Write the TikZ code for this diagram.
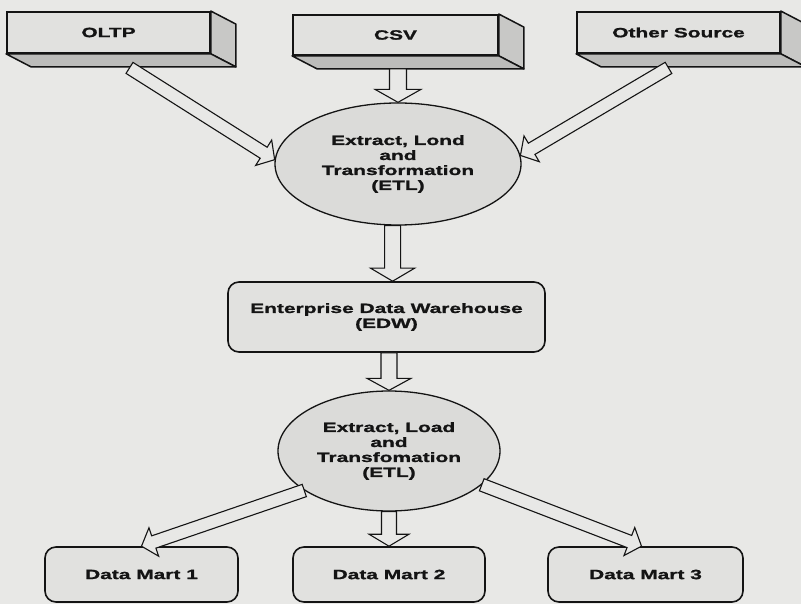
\documentclass[tikz,border=0pt]{standalone}
\usepackage{fontspec}
\newfontfamily\lblfont[FakeStretch=1.55, BoldFeatures={FakeBold=1.2}]{Liberation Sans}
\usetikzlibrary{calc,shapes.geometric}

\definecolor{paper}{HTML}{E8E8E6}
\definecolor{face}{HTML}{E1E1DF}
\definecolor{sideface}{HTML}{C8C8C6}
\definecolor{botface}{HTML}{BCBCBA}
\definecolor{bubble}{HTML}{DBDBD9}
\definecolor{ink}{HTML}{141414}

\tikzset{
  lbl/.style={font=\lblfont\bfseries\fontsize{13.5}{15}\selectfont, text=ink, align=center},
  srcbox/.style={lbl, rectangle, draw=ink, line width=1.8pt, fill=face, inner sep=0pt},
  extr/.style={draw=ink, line width=1.5pt, line join=round},
  etlnode/.style={lbl, ellipse, draw=ink, line width=1.3pt, fill=bubble, inner sep=0pt},
  storebox/.style={lbl, rectangle, draw=ink, line width=1.6pt, fill=face, rounded corners=11pt, inner sep=0pt},
  flow/.style={draw=ink, line width=1.1pt, fill=paper, line join=miter},
}

% hollow block arrow: start, tip, shaft half width, head half width, head length
\newcommand\hollowarrow[5]{%
  \path ($(#2)!#5!(#1)$) coordinate (hb);
  \draw[flow] ($(#1)!#3!90:(#2)$) -- ($(hb)!#3!90:(#2)$) -- ($(hb)!#4!90:(#2)$)
    -- (#2) -- ($(hb)!#4!-90:(#2)$) -- ($(hb)!#3!-90:(#2)$) -- ($(#1)!#3!-90:(#2)$) -- cycle;
}

% right and bottom faces of a source block
\newcommand\extrude[1]{%
  \draw[extr, fill=sideface] (#1.north east) -- ++(25,13) -- ($(#1.south east)+(25,13)$)
    -- (#1.south east) -- cycle;
  \draw[extr, fill=botface] (#1.south west) -- ($(#1.south west)+(25,13)$)
    -- ($(#1.south east)+(25,13)$) -- (#1.south east) -- cycle;
}

\begin{document}
\begin{tikzpicture}[x=1pt, y=-1pt]
  \useasboundingbox (0,0) rectangle (801,604);
  \clip (0,0) rectangle (801,604);
  \fill[paper] (0,0) rectangle (801,604);

  % data sources
  \node[srcbox, minimum width=203pt, minimum height=41pt] (oltp) at (108.5,32.5) {OLTP};
  \node[srcbox, minimum width=205pt, minimum height=40pt] (csv) at (395.5,35) {CSV};
  \node[srcbox, minimum width=203pt, minimum height=41pt] (other) at (678.5,32.5) {Other Source};
  \extrude{oltp}
  \extrude{csv}
  \extrude{other}

  % processing and storage
  \node[etlnode, minimum width=246pt, minimum height=122pt] (etl1) at (398,164)
    {Extract, Lond\\and\\Transformation\\(ETL)};
  \node[storebox, minimum width=317pt, minimum height=70pt] (edw) at (386.5,317)
    {Enterprise Data Warehouse\\(EDW)};
  \node[etlnode, minimum width=222pt, minimum height=120pt] (etl2) at (389,451)
    {Extract, Load\\and\\Transfomation\\(ETL)};

  % data marts
  \node[storebox, minimum width=193pt, minimum height=55pt] (dm1) at (141.5,574.5) {Data Mart 1};
  \node[storebox, minimum width=192pt, minimum height=55pt] (dm2) at (389,574.5) {Data Mart 2};
  \node[storebox, minimum width=195pt, minimum height=55pt] (dm3) at (645.5,574.5) {Data Mart 3};

  % connector end points
  \coordinate (a1s) at ($(oltp.south)+(21,14)$);
  \coordinate (a1e) at (etl1.178);
  \coordinate (a2t) at (csv.south -| etl1.north);
  \coordinate (a2s) at ($(a2t)+(0,13)$);
  \coordinate (a2e) at (etl1.north);
  \coordinate (a3s) at ($(other.south)+(-10,14)$);
  \coordinate (a3e) at (etl1.4);
  \coordinate (a4s) at (etl1.265);
  \coordinate (a4e) at (a4s |- edw.north);
  \coordinate (a5s) at (edw.south -| etl2.north);
  \coordinate (a5e) at (etl2.north);
  \coordinate (a6s) at (etl2.205);
  \coordinate (a6e) at (dm1.north);
  \coordinate (a7s) at (etl2.south);
  \coordinate (a7e) at (dm2.north);
  \coordinate (a8s) at (etl2.340);
  \coordinate (a8e) at ($(dm3.north)+(-4,0)$);

  % flows
  \hollowarrow{a1s}{a1e}{6.5pt}{15pt}{13pt}
  \hollowarrow{a2s}{a2e}{8.5pt}{23pt}{13pt}
  \hollowarrow{a3s}{a3e}{6.5pt}{15pt}{13pt}
  \hollowarrow{a4s}{a4e}{8pt}{22pt}{13pt}
  \hollowarrow{a5s}{a5e}{8pt}{22pt}{12pt}
  \hollowarrow{a6s}{a6e}{6.5pt}{15pt}{13pt}
  \hollowarrow{a7s}{a7e}{7.5pt}{20pt}{12pt}
  \hollowarrow{a8s}{a8e}{6.5pt}{15pt}{13pt}
\end{tikzpicture}
\end{document}
